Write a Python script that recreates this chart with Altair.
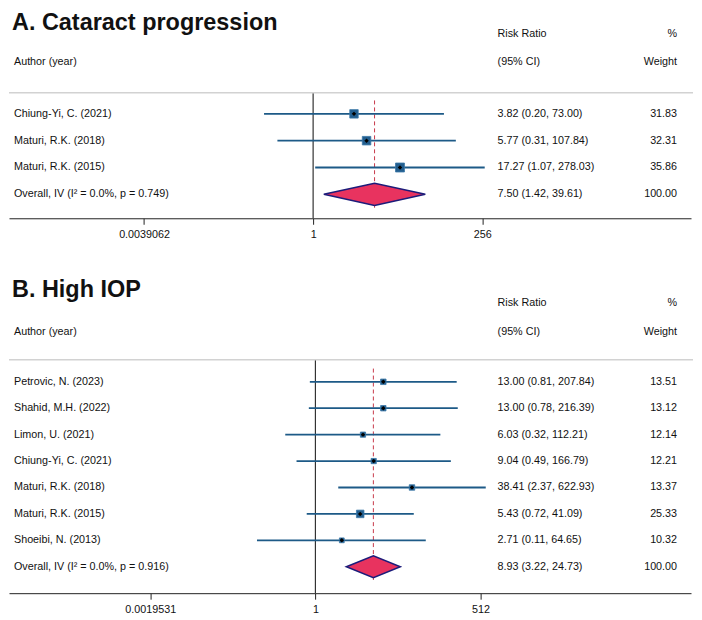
import altair as alt
import pandas as pd

# ---------------- data ----------------
title_a = "A. Cataract progression"
authors_a = ["Chiung-Yi, C. (2021)", "Maturi, R.K. (2018)", "Maturi, R.K. (2015)"]
rr_a = [3.82, 5.77, 17.27]
lo_a = [0.20, 0.31, 1.07]
hi_a = [73.00, 107.84, 278.03]
w_a = [31.83, 32.31, 35.86]
overall_label_a = "Overall, IV (I\u00b2 = 0.0%, p = 0.749)"
overall_a = [7.50, 1.42, 39.61]
ticks_a = [2 ** -8, 1, 2 ** 8]
ticklabels_a = ["0.0039062", "1", "256"]

title_b = "B. High IOP"
authors_b = ["Petrovic, N. (2023)", "Shahid, M.H. (2022)", "Limon, U. (2021)",
             "Chiung-Yi, C. (2021)", "Maturi, R.K. (2018)", "Maturi, R.K. (2015)",
             "Shoeibi, N. (2013)"]
rr_b = [13.00, 13.00, 6.03, 9.04, 38.41, 5.43, 2.71]
lo_b = [0.81, 0.78, 0.32, 0.49, 2.37, 0.72, 0.11]
hi_b = [207.84, 216.39, 112.21, 166.79, 622.93, 41.09, 64.65]
w_b = [13.51, 13.12, 12.14, 12.21, 13.37, 25.33, 10.32]
overall_label_b = "Overall, IV (I\u00b2 = 0.0%, p = 0.916)"
overall_b = [8.93, 3.22, 24.73]
ticks_b = [2 ** -9, 1, 2 ** 9]
ticklabels_b = ["0.0019531", "1", "512"]

header_rr = ["Risk Ratio", "(95% CI)"]
header_w = ["%", "Weight"]
header_author = "Author (year)"

FONT = "Liberation Sans"
TXT = "#111111"
FS = 10.8
W = 684


def panel(title, authors, rr, lo, hi, w, ov_label, ov, ticks, ticklabels,
          H, vtop, vbot, log_left, log_right, side_max, hdr):
    n = len(authors)
    studies = pd.DataFrame({
        "author": authors, "rr": rr, "lo": lo, "hi": hi, "w": w,
        "row": list(range(n)),
        "ci": [f"{a:.2f} ({b:.2f}, {c:.2f})" for a, b, c in zip(rr, lo, hi)],
        "wt": [f"{x:.2f}" for x in w],
    })
    orow = n
    ov_df = pd.DataFrame({
        "author": [ov_label], "row": [orow],
        "ci": [f"{ov[0]:.2f} ({ov[1]:.2f}, {ov[2]:.2f})"], "wt": ["100.00"],
    })
    texts = pd.concat([studies[["author", "row", "ci", "wt"]], ov_df], ignore_index=True)
    half = 0.415
    diamond = pd.DataFrame({
        "x": [ov[1], ov[0], ov[2]],
        "y": [orow, orow - half, orow],
        "y2": [orow, orow + half, orow],
    })
    dash = pd.DataFrame({"x": [ov[0]], "y": [-0.5], "y2": [orow + 0.5]})
    null_line = pd.DataFrame({"x": [1.0], "y": [hdr["line_row"]], "y2": [vbot]})
    hdr_df = pd.DataFrame({"label": [title]})

    label_expr = (f"datum.value < 0.5 ? '{ticklabels[0]}' : "
                  f"(datum.value < 2 ? '{ticklabels[1]}' : '{ticklabels[2]}')")
    xscale = alt.Scale(type="log", base=2, domain=[2 ** log_left, 2 ** log_right],
                       nice=False)
    yscale = alt.Scale(domain=[vtop, vbot], reverse=True, nice=False, zero=False)
    xaxis = alt.Axis(values=ticks, labelExpr=label_expr, title=None, grid=False,
                     domainColor="#222222", tickColor="#222222", tickSize=6,
                     labelFontSize=FS, labelColor=TXT, labelPadding=4,
                     labelFont=FONT, domainWidth=1, labelFlush=False)

    nl = alt.Chart(null_line).mark_rule(color="#333333", strokeWidth=1.2).encode(
        x=alt.X("x:Q", scale=xscale, axis=xaxis),
        y=alt.Y("y:Q", scale=yscale, axis=None), y2="y2:Q")
    dl = alt.Chart(dash).mark_rule(color="#c8394a", strokeWidth=1, strokeDash=[4, 3]).encode(
        x=alt.X("x:Q"), y=alt.Y("y:Q"), y2="y2:Q")
    ci = alt.Chart(studies).mark_rule(color="#1d5a87", strokeWidth=1.8).encode(
        x=alt.X("lo:Q"), x2="hi:Q", y=alt.Y("row:Q"))
    sq = alt.Chart(studies).mark_square(filled=True, color="#235e8e", opacity=1,
                                        stroke="#3b78a8", strokeWidth=0.8).encode(
        x=alt.X("rr:Q"), y=alt.Y("row:Q"),
        size=alt.Size("w:Q", scale=alt.Scale(domain=[0, max(w)], range=[0, side_max ** 2]),
                      legend=None))
    dot = alt.Chart(studies).mark_point(shape="diamond", filled=True, color="#000000",
                                        size=20, opacity=1).encode(
        x=alt.X("rr:Q"), y=alt.Y("row:Q"))
    dia = alt.Chart(diamond).mark_area(fill="#e8335f", stroke="#1c1c7a", strokeWidth=1.5,
                                       opacity=1, interpolate="linear").encode(
        x=alt.X("x:Q"), y=alt.Y("y:Q"), y2="y2:Q")

    t_author = alt.Chart(texts).mark_text(align="left", baseline="middle", font=FONT,
                                          fontSize=FS, color=TXT).encode(
        x=alt.value(5), y=alt.Y("row:Q"), text="author:N")
    t_ci = alt.Chart(texts).mark_text(align="left", baseline="middle", font=FONT,
                                      fontSize=FS, color=TXT).encode(
        x=alt.value(490), y=alt.Y("row:Q"), text="ci:N")
    t_w = alt.Chart(texts).mark_text(align="right", baseline="middle", font=FONT,
                                     fontSize=FS, color=TXT).encode(
        x=alt.value(670), y=alt.Y("row:Q"), text="wt:N")

    def htext(txt, x, y, align, **kw):
        return alt.Chart(hdr_df).mark_text(text=txt, align=align, font=FONT,
                                           color=TXT, **kw).encode(
            x=alt.value(x), y=alt.value(y))

    hdrs = [
        htext(title, 3, hdr["title"], "left", baseline="alphabetic", fontSize=23.5,
              fontWeight="bold"),
        htext(header_rr[0], 490, hdr["h1"], "left", baseline="middle", fontSize=FS),
        htext(header_rr[1], 490, hdr["h2"], "left", baseline="middle", fontSize=FS),
        htext(header_w[0], 670, hdr["h1"], "right", baseline="middle", fontSize=FS),
        htext(header_w[1], 670, hdr["h2"], "right", baseline="middle", fontSize=FS),
        htext(header_author, 5, hdr["h2"], "left", baseline="middle", fontSize=FS),
        alt.Chart(hdr_df).mark_rule(color="#d2d2d2", strokeWidth=1.5).encode(
            x=alt.value(0), x2=alt.value(W + 2), y=alt.value(hdr["line_px"])),
    ]

    return alt.layer(nl, dl, ci, sq, dot, dia, t_author, t_ci, t_w,
                     *hdrs).properties(width=W, height=H)


# Panel A: plot area 210 px tall, row step 26.9 px
pa = panel(title_a, authors_a, rr_a, lo_a, hi_a, w_a, overall_label_a, overall_a,
           ticks_a, ticklabels_a, H=210, vtop=-3.914, vbot=3.893,
           log_left=-14.39, log_right=17.88, side_max=9,
           hdr={"title": 21.6, "h1": 25, "h2": 53.5, "line_px": 84, "line_row": -0.79})
# Panel B: plot area 315 px tall, row step 26.5 px
pb = panel(title_b, authors_b, rr_b, lo_b, hi_b, w_b, overall_label_b, overall_b,
           ticks_b, ticklabels_b, H=315, vtop=-3.887, vbot=8.0,
           log_left=-16.70, log_right=20.47, side_max=11,
           hdr={"title": 17.5, "h1": 24, "h2": 53, "line_px": 81, "line_row": -0.83})

chart = alt.vconcat(pa, pb, spacing=38).properties(padding=0).configure(
    font=FONT).configure_view(strokeWidth=0, stroke="transparent")

chart.save("out.html", embed_options={"renderer": "svg", "actions": False})
